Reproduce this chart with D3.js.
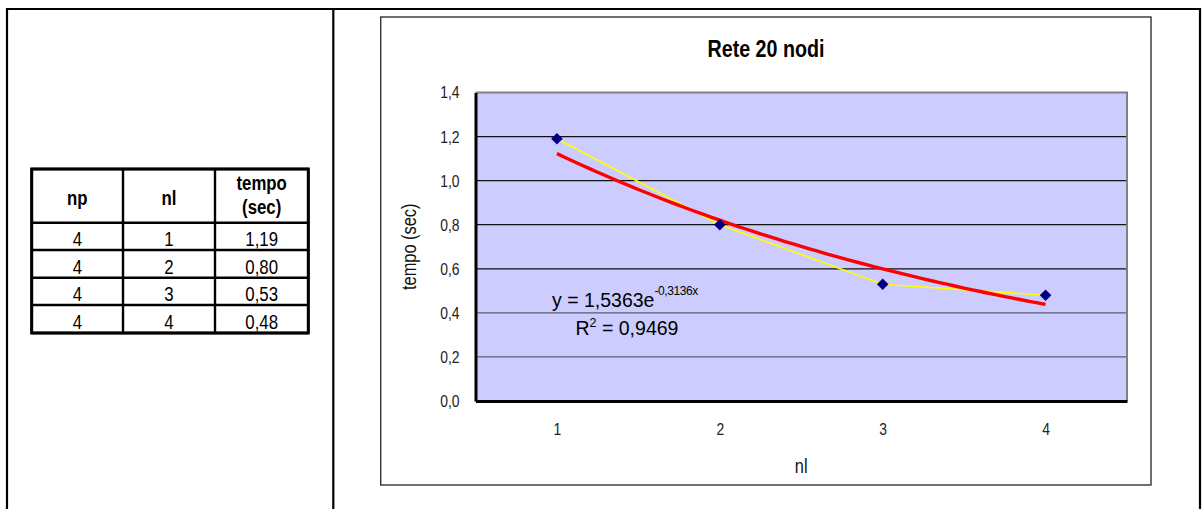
<!DOCTYPE html>
<html>
<head>
<meta charset="utf-8">
<script src="https://cdn.jsdelivr.net/npm/d3@7"></script>
<style>
  html, body { margin: 0; padding: 0; background: #fff; }
  svg { display: block; }
  text { font-family: "Liberation Sans", Arial, sans-serif; }
</style>
</head>
<body>
<svg id="page" width="1202" height="509"></svg>
<script>
// ---- data -------------------------------------------------------------
const tableHeaders = ["np", "nl", "tempo\n(sec)"];
const np = [4, 4, 4, 4];
const nl = [1, 2, 3, 4];
const tempo = [1.19, 0.80, 0.53, 0.48];
const yTicks = [0, 0.2, 0.4, 0.6, 0.8, 1.0, 1.2, 1.4];
// exponential trendline y = a * e^(b x), as printed on the chart
const trendA = 1.5363;
const trendB = -0.3136;
const trendR2 = 0.9469;

const fmt = (v, d) => v.toFixed(d).replace(".", ",");
// condensed look: regular sans squeezed horizontally
const NARROW = 0.82;

const svg = d3.select("#page");
svg.append("rect").attr("width", 1202).attr("height", 509).attr("fill", "#fff");

function narrowText(parent, px, py, str, size, opts = {}) {
  return parent.append("text")
    .attr("transform", `translate(${px},${py}) ${opts.rotate ? `rotate(${opts.rotate})` : ""} scale(${NARROW},1)`)
    .attr("text-anchor", opts.anchor || "middle")
    .attr("font-weight", opts.bold ? "bold" : "normal")
    .attr("font-size", size)
    .attr("fill", opts.fill || "#000")
    .text(str);
}

// ---- outer page frame ---------------------------------------------------
const frame = svg.append("g").attr("stroke", "#000").attr("stroke-width", 2.2);
frame.append("line").attr("x1", 6).attr("x2", 1201).attr("y1", 9).attr("y2", 9);
frame.append("line").attr("x1", 7).attr("x2", 7).attr("y1", 8).attr("y2", 509);
frame.append("line").attr("x1", 333.3).attr("x2", 333.3).attr("y1", 8).attr("y2", 509);
frame.append("line").attr("x1", 1200).attr("x2", 1200).attr("y1", 8).attr("y2", 509);

// ---- data table (left panel) -------------------------------------------
const colX = [31.7, 123, 215, 308.3];
const rowY = [169, 222.7, 250, 277.7, 305, 333];
const tbl = svg.append("g");
const tblLines = tbl.append("g").attr("stroke", "#000").attr("stroke-width", 2.4);
colX.forEach(x => tblLines.append("line").attr("x1", x).attr("x2", x).attr("y1", rowY[0]).attr("y2", rowY[rowY.length - 1]));
rowY.forEach(y => tblLines.append("line").attr("x1", colX[0]).attr("x2", colX[colX.length - 1]).attr("y1", y).attr("y2", y));
tbl.append("rect").attr("x", colX[0]).attr("y", rowY[0])
  .attr("width", colX[3] - colX[0]).attr("height", rowY[5] - rowY[0])
  .attr("fill", "none").attr("stroke", "#000").attr("stroke-width", 3);

const colCenter = i => (colX[i] + colX[i + 1]) / 2;
tableHeaders.forEach((h, i) => {
  const lines = h.split("\n");
  if (lines.length === 1) {
    narrowText(tbl, colCenter(i), 205, lines[0], 20.5, { bold: true });
  } else {
    narrowText(tbl, colCenter(i), 190, lines[0], 20.5, { bold: true });
    narrowText(tbl, colCenter(i), 214, lines[1], 20.5, { bold: true });
  }
});
const rows = nl.map((d, i) => [String(np[i]), String(nl[i]), fmt(tempo[i], 2)]);
rows.forEach((r, ri) => {
  r.forEach((v, ci) => narrowText(tbl, colCenter(ci), rowY[ri + 2] - 4, v, 20.5));
});

// ---- chart box ----------------------------------------------------------
svg.append("rect").attr("x", 380.7).attr("y", 17).attr("width", 770.3).attr("height", 468)
  .attr("fill", "#fff").attr("stroke", "#333").attr("stroke-width", 1.4);

narrowText(svg, 766, 57, "Rete 20 nodi", 24, { bold: true });

// ---- plot area -----------------------------------------------------------
const plot = { left: 475.5, right: 1127, top: 92.5, bottom: 401 };
const x = d3.scalePoint().domain(nl).range([plot.left, plot.right]).padding(0.5);
const xLin = d3.scaleLinear()
  .domain([nl[0] - 0.5, nl[nl.length - 1] + 0.5]).range([plot.left, plot.right]);
const y = d3.scaleLinear().domain([0, 1.4]).range([plot.bottom, plot.top]);

svg.append("rect").attr("x", plot.left).attr("y", plot.top)
  .attr("width", plot.right - plot.left).attr("height", plot.bottom - plot.top)
  .attr("fill", "#CCCCFF");

// horizontal gridlines
svg.append("g").selectAll("line").data(yTicks.filter(v => v > 0 && v < 1.4)).join("line")
  .attr("x1", plot.left).attr("x2", plot.right)
  .attr("y1", d => y(d)).attr("y2", d => y(d))
  .attr("stroke", d => d < 0.5 ? "#5c5c6e" : "#111")
  .attr("stroke-width", 1.3);

// top and right plot border (grey)
svg.append("path")
  .attr("d", `M${plot.left},${plot.top}H${plot.right}V${plot.bottom}`)
  .attr("fill", "none").attr("stroke", "#808080").attr("stroke-width", 2);

// y axis
const yAxis = svg.append("g").attr("transform", `translate(${plot.left},0)`)
  .call(d3.axisLeft(y).tickValues(yTicks).tickSize(0).tickPadding(16)
    .tickFormat(d => fmt(d, 1)));
yAxis.select(".domain").attr("stroke", "#000").attr("stroke-width", 3);
yAxis.selectAll("text")
  .attr("font-size", 17).attr("fill", "#222")
  .attr("x", -16 / NARROW).attr("dy", "0.32em")
  .attr("transform", `scale(${NARROW},1)`);

// x axis
const xAxis = svg.append("g").attr("transform", `translate(0,${plot.bottom})`)
  .call(d3.axisBottom(x).tickSize(0).tickPadding(22));
xAxis.select(".domain").attr("stroke", "#000").attr("stroke-width", 3.2);
xAxis.selectAll("text")
  .attr("font-size", 17).attr("fill", "#222")
  .attr("transform", `scale(${NARROW},1)`);
[yAxis, xAxis].forEach(a => a.attr("font-family", null));

// axis titles
narrowText(svg, 416, (plot.top + plot.bottom) / 2, "tempo (sec)", 20, { rotate: -90, fill: "#111" });
narrowText(svg, (plot.left + plot.right) / 2, 473, "nl", 20, { fill: "#111" });

// connecting line through the measurements
svg.append("path").datum(nl.map((d, i) => [d, tempo[i]]))
  .attr("fill", "none").attr("stroke", "#FFFF00").attr("stroke-width", 1.6)
  .attr("d", d3.line().x(d => x(d[0])).y(d => y(d[1])));

// exponential trendline
const trendPts = d3.range(nl[0], nl[nl.length - 1] + 0.001, 0.05)
  .map(t => [t, trendA * Math.exp(trendB * t)]);
svg.append("path").datum(trendPts)
  .attr("fill", "none").attr("stroke", "#FF0000").attr("stroke-width", 3.4)
  .attr("stroke-linejoin", "round")
  .attr("d", d3.line().x(d => xLin(d[0])).y(d => y(d[1])));

// markers
svg.append("g").selectAll("path").data(nl.map((d, i) => [d, tempo[i]])).join("path")
  .attr("transform", d => `translate(${x(d[0])},${y(d[1])})`)
  .attr("d", "M0,-5.8L5.8,0L0,5.8L-5.8,0Z")
  .attr("fill", "#000080");

// trendline equation
const eq = svg.append("text").attr("font-size", 19.5).attr("fill", "#000")
  .attr("x", 552).attr("y", 306.5);
eq.append("tspan").text(`y = ${fmt(trendA, 4)}e`);
eq.append("tspan").attr("font-size", 12).attr("letter-spacing", -0.4).attr("dy", -11.5)
  .text(fmt(trendB, 4) + "x");
const r2 = svg.append("text").attr("font-size", 19.5).attr("fill", "#000")
  .attr("x", 575.5).attr("y", 335);
r2.append("tspan").text("R");
r2.append("tspan").attr("font-size", 12.5).attr("dy", -8).text("2");
r2.append("tspan").attr("dy", 8).text(` = ${fmt(trendR2, 4)}`);
</script>
</body>
</html>
